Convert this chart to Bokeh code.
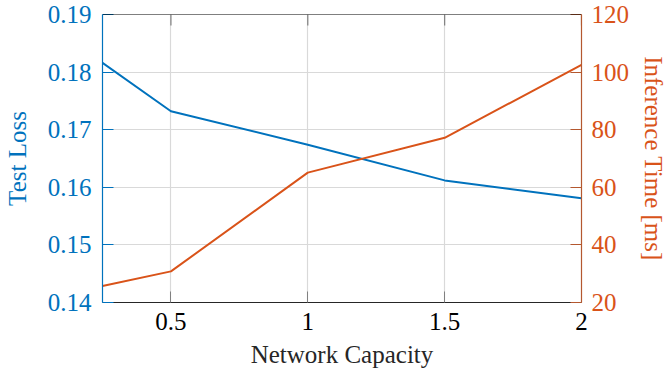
import math
from bokeh.plotting import figure
from bokeh.models import Range1d, LinearAxis, FixedTicker, Span
from bokeh.embed import file_html
from bokeh.resources import INLINE

capacity = [0.25, 0.5, 1.0, 1.5, 2.0]
test_loss = [0.1816, 0.1732, 0.1674, 0.1612, 0.1581]
inference_ms = [25.7, 30.8, 65.1, 77.2, 102.5]

x_ticks = [0.5, 1, 1.5, 2]
x_labels = {0.5: "0.5", 1: "1", 1.5: "1.5", 2: "2"}
loss_ticks = [0.14, 0.15, 0.16, 0.17, 0.18, 0.19]
time_ticks = [20, 40, 60, 80, 100, 120]
x_min, x_max = 0.25, 2.0
loss_min, loss_max = 0.14, 0.19
time_min, time_max = 20, 120

BLUE = "#0072BD"
ORANGE = "#D95319"
FONT = "Liberation Serif"
FS = "25px"

p = figure(width=670, height=378, output_backend="svg", toolbar_location=None,
           x_range=Range1d(x_min, x_max), y_range=Range1d(loss_min, loss_max),
           min_border_left=101, min_border_right=89, min_border_top=14, min_border_bottom=76)
p.outline_line_color = None
p.background_fill_color = "white"
p.border_fill_color = "white"
p.extra_y_ranges = {"time": Range1d(time_min, time_max)}

p.xgrid.ticker = FixedTicker(ticks=x_ticks)
p.ygrid.ticker = FixedTicker(ticks=loss_ticks)
p.grid.grid_line_color = "#D9D9D9"
p.grid.grid_line_width = 1.2


def style_axis(ax, line_color, tick_color, tick_label_color, label_color, title,
               label_standoff, title_standoff):
    ax.axis_label = title
    ax.axis_line_color = line_color
    ax.axis_line_width = 1.2
    ax.major_tick_line_color = tick_color
    ax.major_tick_in = 11
    ax.major_tick_out = 0
    ax.minor_tick_line_color = None
    ax.major_label_text_font = FONT
    ax.major_label_text_font_size = FS
    ax.major_label_text_color = tick_label_color
    ax.major_label_standoff = label_standoff
    ax.axis_label_text_font = FONT
    ax.axis_label_text_font_size = FS
    ax.axis_label_text_font_style = "normal"
    ax.axis_label_text_color = label_color
    ax.axis_label_standoff = title_standoff


xa = p.xaxis[0]
xa.ticker = FixedTicker(ticks=x_ticks)
xa.major_label_overrides = x_labels
style_axis(xa, "#262626", "#808080", "black", "#262626", "Network Capacity", 10, 8)

ya = p.yaxis[0]
ya.ticker = FixedTicker(ticks=loss_ticks)
ya.major_label_overrides = {t: f"{t:.2f}" for t in loss_ticks}
style_axis(ya, BLUE, BLUE, BLUE, BLUE, "Test Loss", 11, 14)

ra = LinearAxis(y_range_name="time", ticker=FixedTicker(ticks=time_ticks))
style_axis(ra, "#B4582F", "#B4582F", ORANGE, ORANGE, "Inference Time [ms]", 10, 8)
p.add_layout(ra, "right")

# top border with inward ticks
p.add_layout(Span(location=loss_max, dimension="width", line_color="black", line_width=1.2))
p.ray(x=x_ticks, y=[loss_max] * len(x_ticks), length=11, length_units="screen",
      angle=-math.pi / 2, line_color="#808080", line_width=1.2)

p.line(capacity, test_loss, line_color=BLUE, line_width=2)
p.line(capacity, inference_ms, line_color=ORANGE, line_width=2, y_range_name="time")

open("out.html", "w").write(file_html(p, INLINE))
